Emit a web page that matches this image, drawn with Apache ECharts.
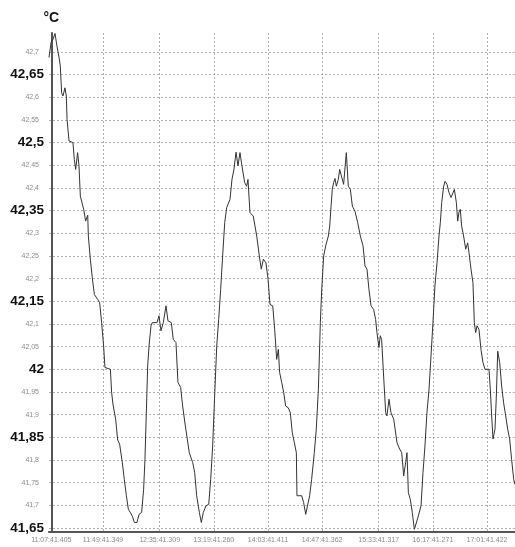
<!DOCTYPE html>
<html><head><meta charset="utf-8">
<script src="https://cdn.jsdelivr.net/npm/echarts@6.0.0/dist/echarts.min.js"></script>
<style>html,body{margin:0;padding:0;background:#fff}#c{width:515px;height:547px}</style>
</head><body><div id="c"></div>
<script>
// minutes since 11:07:41.405
const minutes = [-1.87,-0.2,1.4,3.0,4.6,6.3,7.3,8.4,9.5,11.1,12.2,12.8,14.4,17.6,18.7,19.8,21.4,22.5,23.6,25.2,26.3,27.9,29.6,30.1,31.7,33.3,35.0,37.7,39.3,40.9,42.5,43.6,48.0,49.0,50.1,52.3,53.9,55.5,57.7,59.3,61.0,62.6,64.2,65.8,67.5,69.6,71.3,73.4,75.0,76.1,77.2,78.3,79.4,81.0,82.1,85.9,87.5,89.1,91.0,93.2,94.8,97.5,99.1,101.3,102.9,105.1,106.7,108.9,110.5,112.1,114.9,116.5,118.1,120.3,121.9,123.5,125.7,127.9,129.5,131.1,132.7,134.4,136.0,137.6,139.2,140.9,142.5,145.2,146.8,148.4,150.1,151.7,153.3,154.9,157.1,158.7,159.8,161.4,164.1,166.9,169.0,170.6,172.3,174.4,176.1,177.7,179.9,181.5,183.1,184.5,185.5,187.2,188.8,190.4,192.6,194.2,195.8,197.5,199.1,199.6,203.4,205.0,206.7,208.3,209.9,211.5,213.7,215.3,217.0,218.6,219.7,221.3,222.9,225.1,226.2,227.3,228.3,229.4,230.5,231.6,233.2,234.3,235.9,237.5,238.6,239.7,241.3,243.0,244.6,246.7,248.9,251.1,253.3,254.9,256.5,258.1,259.8,261.9,263.5,264.6,266.2,267.3,268.4,270.0,271.7,272.7,274.4,276.0,278.2,280.9,283.0,284.7,286.3,287.9,289.0,290.1,291.7,293.3,295.0,296.6,298.2,300.4,302.0,303.6,305.2,306.9,308.5,310.1,311.7,313.4,315.0,316.1,317.2,318.8,319.9,321.5,323.1,324.8,326.4,327.5,329.1,330.2,331.2,332.3,333.4,335.0,336.7,338.3,339.4,341.0,342.6,343.7,344.8,345.9,347.5,349.1,350.7,352.4,355.6,356.7,357.8,358.9,360.5,361.6,362.7,364.3,365.9,367.5,369.2,370.8,372.4,374.0,375.7,376.75];
const temps = [42.688,42.721,42.728,42.741,42.713,42.688,42.669,42.610,42.603,42.621,42.603,42.551,42.504,42.500,42.463,42.441,42.478,42.449,42.382,42.379,42.353,42.327,42.340,42.294,42.243,42.202,42.165,42.154,42.147,42.103,42.051,42.004,42.000,41.949,41.923,41.890,41.844,41.835,41.794,41.757,41.721,41.691,41.684,41.676,41.662,41.662,41.680,41.684,41.735,41.801,41.904,42.007,42.051,42.096,42.103,42.103,42.118,42.085,42.103,42.140,42.107,42.103,42.066,42.059,41.971,41.960,41.919,41.875,41.846,41.816,41.794,41.772,41.721,41.684,41.662,41.684,41.699,41.702,41.757,41.831,41.941,42.051,42.110,42.176,42.250,42.324,42.357,42.375,42.419,42.441,42.479,42.449,42.478,42.449,42.412,42.404,42.419,42.346,42.338,42.294,42.250,42.221,42.243,42.235,42.199,42.143,42.140,42.088,42.022,42.044,41.993,41.971,41.949,41.919,41.915,41.904,41.860,41.838,41.816,41.721,41.721,41.706,41.680,41.684,41.721,41.757,41.816,41.868,41.956,42.103,42.176,42.250,42.272,42.294,42.316,42.360,42.397,42.412,42.421,42.404,42.419,42.441,42.441,42.408,42.404,42.478,42.404,42.397,42.360,42.349,42.324,42.294,42.272,42.228,42.221,42.176,42.140,42.132,42.110,42.081,42.048,42.074,42.066,41.985,41.904,41.897,41.934,41.904,41.890,41.838,41.824,41.816,41.765,41.794,41.816,41.728,41.713,41.684,41.647,41.651,41.676,41.699,41.772,41.831,41.904,41.956,42.029,42.103,42.184,42.235,42.294,42.324,42.368,42.404,42.415,42.408,42.390,42.379,42.382,42.397,42.368,42.327,42.346,42.353,42.316,42.294,42.265,42.279,42.257,42.221,42.191,42.103,42.081,42.096,42.088,42.044,42.015,42.000,42.000,41.956,41.897,41.846,41.868,41.941,42.040,42.015,41.963,41.926,41.897,41.868,41.846,41.801,41.757,41.746];
const xTickMinutes = [0,42,88,132,176,220,266,310,354];
const xTickLabels = ['11:07:41.405','11:49:41.349','12:35:41.309','13:19:41.260','14:03:41.411','14:47:41.362','15:33:41.317','16:17:41.271','17:01:41.422'];
const yTickValues = [41.65,41.7,41.75,41.8,41.85,41.9,41.95,42,42.05,42.1,42.15,42.2,42.25,42.3,42.35,42.4,42.45,42.5,42.55,42.6,42.65,42.7];
const yTickLabels = ['41,65','41,7','41,75','41,8','41,85','41,9','41,95','42','42,05','42,1','42,15','42,2','42,25','42,3','42,35','42,4','42,45','42,5','42,55','42,6','42,65','42,7'];
const boldLabels = ['42,65','42,5','42,35','42,15','42','41,85','41,65'];
const unitName = '°C';

const points = minutes.map((m, i) => [m, temps[i]]);
const chart = echarts.init(document.getElementById('c'), null, {renderer: 'canvas'});
const gridLine = {show: true, lineStyle: {color: '#b0b0b0', type: [2, 2], width: 1}};
chart.setOption({
  animation: false,
  backgroundColor: '#fff',
  grid: {left: 49, top: 33, right: 0, bottom: 15, containLabel: false},
  xAxis: {
    type: 'value', min: -1.87, max: 376.75,
    axisLine: {show: true, onZero: false, lineStyle: {color: '#555', width: 2}},
    axisTick: {show: false, customValues: xTickMinutes.slice(1)},
    splitLine: gridLine,
    axisLabel: {
      customValues: xTickMinutes, margin: 5, fontSize: 7, color: '#8a8a8a', fontFamily: 'Liberation Sans',
      formatter: v => { const i = xTickMinutes.indexOf(Math.round(v)); return i >= 0 ? xTickLabels[i] : ''; }
    }
  },
  yAxis: {
    type: 'value', min: 41.641, max: 42.742,
    name: unitName, nameLocation: 'end', nameGap: 8,
    nameTextStyle: {fontSize: 14, fontWeight: 'bold', color: '#111', fontFamily: 'Liberation Sans', align: 'center'},
    axisLine: {show: true, lineStyle: {color: '#555', width: 2}},
    axisTick: {show: false, customValues: yTickValues},
    splitLine: gridLine,
    axisLabel: {
      customValues: yTickValues, margin: 5,
      formatter: v => {
        let i = yTickValues.findIndex(t => Math.abs(t - v) < 1e-6);
        if (i < 0) return '';
        const s = yTickLabels[i];
        return boldLabels.includes(s) ? '{b|' + s + '}' : '{s|' + s + '}';
      },
      rich: {
        b: {fontSize: 13.5, fontWeight: 'bold', color: '#111', fontFamily: 'Liberation Sans'},
        s: {fontSize: 7, color: '#8a8a8a', fontFamily: 'Liberation Sans', padding: [0, 5, 0, 0]}
      }
    }
  },
  series: [{
    type: 'line', data: points, showSymbol: false, symbol: 'none',
    lineStyle: {color: '#333', width: 1}
  }]
});
</script>
</body></html>
